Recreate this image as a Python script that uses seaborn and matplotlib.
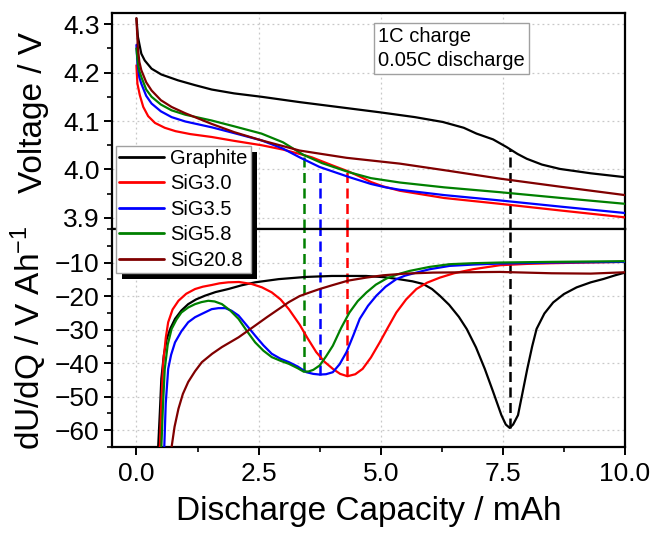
import numpy as np
import matplotlib
matplotlib.use("Agg")
import matplotlib.pyplot as plt
from matplotlib.patches import Rectangle
from matplotlib.ticker import MultipleLocator
import seaborn as sns

# ---- series names and colours ----
names = ["Graphite", "SiG3.0", "SiG3.5", "SiG5.8", "SiG20.8"]
colors = ["#000000", "#ff0000", "#0000ff", "#008000", "#800000"]

# ---- discharge voltage curves (capacity mAh, voltage V) ----
v_graphite_x = [0, 0.03, 0.1, 0.17, 0.31, 0.51, 0.85, 1.2, 1.54, 2.0, 2.56, 3.34, 4.2, 4.98,
                5.7, 6.27, 6.7, 6.96, 7.3, 7.58, 7.8, 7.99, 8.3, 8.67, 9.3, 10]
v_graphite_y = [4.312, 4.274, 4.239, 4.225, 4.208, 4.196, 4.184, 4.174, 4.165, 4.157, 4.150,
                4.139, 4.128, 4.118, 4.108, 4.098, 4.086, 4.074, 4.062, 4.046, 4.032, 4.022,
                4.010, 4.001, 3.992, 3.984]

v_sig30_x = [0, 0.02, 0.07, 0.14, 0.24, 0.38, 0.58, 0.8, 1.1, 1.54, 2.0, 2.56, 3.0, 3.34,
             3.59, 4.02, 4.36, 4.6, 4.8, 5.05, 5.39, 6.3, 7.44, 8.7, 10]
v_sig30_y = [4.215, 4.177, 4.153, 4.129, 4.110, 4.096, 4.086, 4.079, 4.073, 4.067, 4.059,
             4.050, 4.041, 4.032, 4.025, 4.008, 3.995, 3.984, 3.974, 3.965, 3.956, 3.941,
             3.929, 3.915, 3.901]

v_sig35_x = [0, 0.02, 0.06, 0.1, 0.2, 0.31, 0.5, 0.72, 1.0, 1.54, 2.0, 2.56, 3.0, 3.34,
             3.75, 4.36, 4.8, 5.1, 5.39, 6.3, 7.44, 8.7, 10]
v_sig35_y = [4.257, 4.22, 4.19, 4.177, 4.152, 4.136, 4.12, 4.108, 4.099, 4.087, 4.075,
             4.060, 4.043, 4.025, 4.005, 3.984, 3.970, 3.963, 3.958, 3.947, 3.936, 3.923,
             3.910]

v_sig58_x = [0, 0.03, 0.06, 0.1, 0.2, 0.31, 0.5, 0.72, 1.0, 1.54, 2.0, 2.56, 3.0, 3.42,
             3.8, 4.36, 4.8, 5.39, 6.3, 7.44, 8.7, 10]
v_sig58_y = [4.25, 4.22, 4.203, 4.191, 4.165, 4.150, 4.134, 4.122, 4.113, 4.101, 4.089,
             4.074, 4.056, 4.030, 4.013, 3.994, 3.982, 3.973, 3.963, 3.953, 3.941, 3.929]

v_sig208_x = [0, 0.03, 0.06, 0.1, 0.2, 0.31, 0.5, 0.72, 1.0, 1.54, 2.0, 2.56, 3.34, 4.3,
              5.39, 6.4, 7.44, 8.7, 10]
v_sig208_y = [4.312, 4.25, 4.222, 4.205, 4.18, 4.163, 4.143, 4.129, 4.116, 4.094, 4.077,
              4.060, 4.039, 4.024, 4.012, 3.997, 3.981, 3.964, 3.947]

# ---- differential voltage dU/dQ (capacity mAh, V/Ah) ----
d_graphite_x = [0.445, 0.48, 0.51, 0.56, 0.62, 0.70, 0.79, 0.92, 1.06, 1.22, 1.40, 1.62,
                1.88, 2.15, 2.43, 2.91, 3.46, 4.0, 4.70, 5.1, 5.39, 5.65, 5.87, 6.05, 6.21,
                6.4, 6.6, 6.76, 6.95, 7.13, 7.3, 7.47, 7.56, 7.64, 7.71, 7.81, 7.9, 8.0,
                8.1, 8.19, 8.35, 8.53, 8.75, 9.01, 9.3, 9.56, 9.8, 10.0]
d_graphite_y = [-65, -54.5, -44.6, -37.7, -32.8, -29.5, -26.8, -24.3, -22.4, -21.0, -19.9,
                -18.8, -17.9, -16.8, -15.9, -14.95, -14.3, -14.0, -14.0, -14.4, -15.0,
                -15.6, -16.4, -17.9, -19.9, -22.6, -26.2, -29.8, -35.3, -41.7, -48.5,
                -55.5, -58.3, -59.3, -58.3, -55.5, -49.0, -41.7, -35.0, -29.8, -25.2,
                -21.9, -19.4, -17.4, -15.9, -14.9, -13.8, -13.0]

d_sig30_x = [0.48, 0.51, 0.55, 0.60, 0.65, 0.74, 0.86, 1.02, 1.20, 1.36, 1.54, 1.70, 1.88,
             2.1, 2.36, 2.57, 2.77, 2.95, 3.12, 3.34, 3.5, 3.68, 3.85, 4.02, 4.17, 4.32,
             4.48, 4.63, 4.8, 4.98, 5.15, 5.32, 5.52, 5.73, 5.95, 6.21, 6.5, 6.89, 7.44,
             8.0, 8.5, 9.2, 10.0]
d_sig30_y = [-65, -52, -39.7, -32.5, -27.8, -24.0, -21.4, -19.3, -17.9, -17.2, -16.7,
             -16.2, -15.9, -15.8, -16.4, -17.4, -18.9, -21.0, -23.9, -28.5, -32.5, -36.7,
             -39.6, -41.7, -43.2, -43.9, -43.3, -41.7, -38.3, -33.8, -29.3, -24.9, -21.0,
             -17.9, -16.0, -14.5, -13.2, -12.0, -10.8, -10.4, -10.2, -10.0, -9.8]

d_sig35_x = [0.57, 0.60, 0.65, 0.71, 0.79, 0.92, 1.06, 1.2, 1.34, 1.54, 1.68, 1.82, 1.95,
             2.09, 2.25, 2.43, 2.6, 2.77, 2.95, 3.12, 3.3, 3.48, 3.62, 3.75, 3.88, 4.02,
             4.16, 4.30, 4.44, 4.57, 4.74, 4.91, 5.1, 5.32, 5.5, 5.73, 6.0, 6.41, 6.9,
             7.44, 8.5, 10]
d_sig35_y = [-65, -52, -41.7, -37.5, -33.8, -30.5, -27.8, -26.3, -25.3, -23.9, -23.6,
             -23.6, -24.4, -25.8, -28.6, -31.8, -34.7, -37.2, -38.7, -39.7, -41.0, -42.7,
             -43.2, -43.4, -43.3, -42.7, -40.3, -36.7, -31.7, -26.8, -22.9, -19.9, -17.2,
             -14.95, -13.9, -13.0, -12.0, -11.0, -10.6, -10.3, -10.0, -9.8]

d_sig58_x = [0.51, 0.545, 0.58, 0.64, 0.72, 0.82, 0.92, 1.06, 1.20, 1.33, 1.47, 1.6, 1.75,
             1.92, 2.09, 2.26, 2.43, 2.6, 2.77, 2.95, 3.12, 3.3, 3.42, 3.52, 3.62, 3.75,
             3.88, 4.02, 4.19, 4.36, 4.53, 4.71, 4.9, 5.12, 5.35, 5.59, 6.0, 6.41, 6.9,
             7.44, 8.5, 10]
d_sig58_y = [-65, -52, -41.7, -34.5, -29.8, -27.0, -24.9, -23.4, -22.4, -21.8, -21.4,
             -21.6, -22.4, -24.3, -26.8, -30.4, -33.8, -36.3, -38.2, -39.3, -40.2, -41.5,
             -42.5, -42.5, -42.0, -40.7, -38.0, -34.8, -29.5, -24.9, -21.5, -18.9, -16.6,
             -14.75, -13.5, -12.5, -11.3, -10.5, -10.2, -10.0, -9.8, -9.6]

d_sig208_x = [0.72, 0.78, 0.86, 0.95, 1.06, 1.2, 1.34, 1.55, 1.75, 2.09, 2.43, 2.67, 2.91,
              3.12, 3.34, 3.55, 3.75, 4.0, 4.33, 4.7, 5.05, 5.5, 6.07, 7.44, 8.5, 9.3, 10]
d_sig208_y = [-65, -59, -53.6, -49.2, -45.6, -42.4, -39.7, -37.2, -35.2, -32.3, -28.8,
              -26.3, -23.9, -21.8, -20.0, -18.9, -17.9, -16.8, -15.4, -14.5, -13.8, -13.3,
              -13.0, -12.8, -13.2, -13.3, -12.9]

# ---- capacity of the main dU/dQ minimum per series (None = not marked) ----
peak_x = [7.64, 4.32, 3.75, 3.42, None]

volt_x = [v_graphite_x, v_sig30_x, v_sig35_x, v_sig58_x, v_sig208_x]
volt_y = [v_graphite_y, v_sig30_y, v_sig35_y, v_sig58_y, v_sig208_y]
dq_x = [d_graphite_x, d_sig30_x, d_sig35_x, d_sig58_x, d_sig208_x]
dq_y = [d_graphite_y, d_sig30_y, d_sig35_y, d_sig58_y, d_sig208_y]

xticks = [0.0, 2.5, 5.0, 7.5, 10.0]

sns.set_style("ticks")
plt.rcParams["font.family"] = ["Liberation Sans", "DejaVu Sans"]
plt.rcParams["mathtext.fontset"] = "custom"
plt.rcParams["mathtext.rm"] = "Liberation Sans"
plt.rcParams["mathtext.it"] = "Liberation Sans:italic"
for key in ("text.color", "axes.labelcolor", "xtick.color", "ytick.color"):
    plt.rcParams[key] = "black"

W, H = 652, 533
fig = plt.figure(figsize=(W / 100, H / 100), dpi=100)
left, right = 112 / W, 625 / W
y_top, y_mid, y_bot = 1 - 13 / H, 1 - 229 / H, 1 - 447 / H
ax1 = fig.add_axes([left, y_mid, right - left, y_top - y_mid])
ax2 = fig.add_axes([left, y_bot, right - left, y_mid - y_bot], sharex=ax1)

lw = 1.6
line_kw = dict(lw=lw, estimator=None, zorder=3, solid_joinstyle="round",
               solid_capstyle="round")
handles = []
for i in range(5):
    sns.lineplot(x=volt_x[i], y=volt_y[i], ax=ax1, color=colors[i], **line_kw)
    sns.lineplot(x=dq_x[i], y=dq_y[i], ax=ax2, color=colors[i], **line_kw)
    handles.append(plt.Line2D([], [], color=colors[i], lw=2.0))

ax1.set_xlim(-0.5, 10.0)
ax1.set_ylim(3.877, 4.323)
ax2.set_ylim(-65, 0)

# dashed markers linking the dU/dQ minima to the voltage curves
dash = (0, (4, 2.2))
for i, px in enumerate(peak_x):
    if px is None:
        continue
    v = np.interp(px, volt_x[i], volt_y[i])
    d = np.interp(px, dq_x[i], dq_y[i])
    ax1.vlines(px, 3.877, v, colors=colors[i], lw=1.8, linestyles=dash, zorder=2)
    ax2.vlines(px, d, 0, colors=colors[i], lw=1.8, linestyles=dash, zorder=2)

grid_kw = dict(color="#c8c8c8", lw=0.9, ls=(0, (1.5, 2.5)))
for ax in (ax1, ax2):
    ax.grid(True, which="major", **grid_kw)
    ax.set_axisbelow(True)
    for s in ax.spines.values():
        s.set_linewidth(1.6)
        s.set_color("black")
    ax.tick_params(which="major", direction="out", length=6, width=1.4,
                   labelsize=19, pad=3, colors="black")
    ax.tick_params(which="minor", direction="out", length=3.5, width=1.2, colors="black")
    ax.set_xlabel("")
    ax.set_ylabel("")

ax1.yaxis.set_minor_locator(MultipleLocator(0.05))
ax1.set_yticks([3.9, 4.0, 4.1, 4.2, 4.3])
ax1.set_yticklabels(["3.9", "4.0", "4.1", "4.2", "4.3"])
ax1.tick_params(axis="x", which="both", length=0, labelbottom=False)

ax2.set_xticks(xticks)
ax2.set_xticklabels([f"{t:.1f}" for t in xticks])
ax2.xaxis.set_minor_locator(MultipleLocator(1.25))
ax2.tick_params(axis="x", which="major", pad=5)
ax2.set_yticks([-60, -50, -40, -30, -20, -10])
ax2.yaxis.set_minor_locator(MultipleLocator(5))

ax1.set_ylabel("Voltage / V", fontsize=24)
ax2.set_ylabel(r"dU/dQ / V Ah$^{-1}$", fontsize=24)
ax1.yaxis.set_label_coords(-0.123, 0.54)
ax2.yaxis.set_label_coords(-0.123, 0.5)
ax2.set_xlabel("Discharge Capacity / mAh", fontsize=24, labelpad=7)

ax1.text((378 - 112) / 513, 1 - (27 - 13) / 216, "1C charge\n0.05C discharge",
         transform=ax1.transAxes, ha="left", va="top", fontsize=14.5, linespacing=1.3,
         bbox=dict(boxstyle="square,pad=0.2", fc="white", ec="#a0a0a0", lw=1))

leg = fig.legend(handles, names, loc="upper left",
                 bbox_to_anchor=(116 / W, 1 - 146 / H), bbox_transform=fig.transFigure,
                 frameon=True, fancybox=False, edgecolor="#a0a0a0", fontsize=14.5,
                 handlelength=2.25, handletextpad=0.3, borderpad=0.15,
                 labelspacing=0.32, borderaxespad=0, framealpha=1)
leg.get_frame().set_linewidth(1.0)
leg.set_zorder(10)

# solid drop shadow behind the legend box
fig.canvas.draw()
bb = leg.get_window_extent().transformed(fig.transFigure.inverted())
off_x, off_y = 6 / W, 6 / H
fig.patches.append(Rectangle((bb.x0 + off_x, bb.y0 - off_y), bb.width, bb.height,
                             transform=fig.transFigure, fc="black", ec="none", zorder=9))

fig.savefig("out.png", dpi=100)
